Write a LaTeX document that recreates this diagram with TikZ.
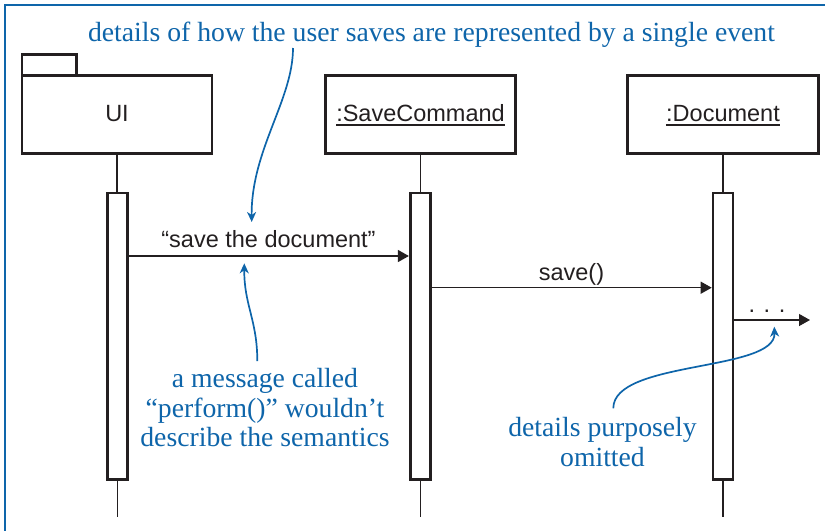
\documentclass[tikz,border=0pt]{standalone}
\usepackage{fontspec}
\setmainfont{Liberation Serif}
\newfontfamily\diagsans{Liberation Sans}
\usetikzlibrary{arrows.meta}
\definecolor{noteblue}{RGB}{14,101,170}
\definecolor{ink}{RGB}{35,31,32}
\begin{document}
\begin{tikzpicture}[x=1pt,y=-1pt,
  objbox/.style={draw=ink, line width=2.6pt, minimum width=190pt, minimum height=78pt, inner sep=0pt},
  tabbox/.style={draw=ink, line width=2.6pt, minimum width=54.7pt, minimum height=20.6pt, inner sep=0pt},
  actbar/.style={draw=ink, line width=2.6pt, fill=white, minimum width=20pt, minimum height=286.7pt, inner sep=0pt},
  lifeline/.style={draw=ink, line width=1.2pt},
  msgarrow/.style={draw=ink, line width=1.3pt, -{Triangle[length=11pt,width=12pt]}},
  msglabel/.style={font=\diagsans\fontsize{23.5}{28}\selectfont, text=ink, inner sep=0pt, anchor=base},
  uline/.style={draw=ink, line width=1.2pt},
  notetext/.style={font=\fontsize{27.7}{29.5}\selectfont, text=noteblue, inner sep=0pt, align=center},
  notearrow/.style={draw=noteblue, line width=1.7pt, -{Stealth[length=10pt,width=9pt,inset=3pt]}},
  frameline/.style={draw=noteblue, line width=1.8pt}
]
\useasboundingbox (0,0) rectangle (825,531);
\draw[frameline] (825,5.2) -- (5.3,5.2) -- (5.3,531);

% object boxes
\node[tabbox] (uitab) at (49.35,65) {};
\node[objbox] (ui) at (117,114.3) {};
\node[objbox] (sc) at (420.5,114.3) {};
\node[objbox, minimum width=191.4pt] (doc) at (723,114.3) {};

\node[msglabel] (uit) at (117,121.7) {UI};
\node[msglabel] (sct) at (420.5,121.7) {:SaveCommand};
\node[msglabel] (doct) at (723,121.7) {:Document};
\draw[uline] ([yshift=-3.3pt]sct.base west) -- ([yshift=-3.3pt]sct.base east);
\draw[uline] ([yshift=-3.3pt]doct.base west) -- ([yshift=-3.3pt]doct.base east);

% activation bars
\node[actbar] (uiact) at (117.3,336.3) {};
\node[actbar] (scact) at (420.2,336.3) {};
\node[actbar] (docact) at (723,336.3) {};

% lifelines
\coordinate (bottom) at (0,516.5);
\draw[lifeline] (ui.south) -- (ui.south |- uiact.north);
\draw[lifeline] (sc.south) -- (sc.south |- scact.north);
\draw[lifeline] (doc.south) -- (doc.south |- docact.north);
\draw[lifeline] (uiact.south) -- (uiact.south |- bottom);
\draw[lifeline] (scact.south) -- (scact.south |- bottom);
\draw[lifeline] (docact.south) -- (docact.south |- bottom);

% messages
\coordinate (m1) at (0,256);
\draw[msgarrow] (uiact.east |- m1) -- (scact.west |- m1);
\node[msglabel] (m1l) at (268.5,247.3) {“save the document”};
\coordinate (m2) at (0,287.7);
\draw[msgarrow] (scact.east |- m2) -- (docact.west |- m2);
\node[msglabel] (m2l) at (571.5,280) {save()};
\coordinate (m3) at (810,320);
\draw[msgarrow] (docact.east |- m3) -- (m3);
\node[msglabel] (dots) at (767,312.5) {.\hskip8.5pt.\hskip8.5pt.};

% notes
\node[notetext, anchor=base] (title) at (431.5,41) {details of how the user saves are represented by a single event};
\node[notetext, anchor=north] (note2) at (265,368.1) {a message called\\“perform()” wouldn’t\\describe the semantics};
\node[notetext, anchor=north] (note3) at (602.5,417.1) {details purposely\\omitted};

\coordinate (a1s) at (293,48);
\coordinate (a1e) at (251.7,222);
\draw[notearrow] (a1s) .. controls (293,100) and (251,150) .. (a1e);
\coordinate (a2s) at (257.3,361);
\coordinate (a2e) at (244.3,263.3);
\draw[notearrow] (a2s) .. controls (257.3,320) and (244,305) .. (a2e);
\coordinate (a3s) at (613.3,408.3);
\coordinate (a3e) at (774.3,326.7);
\draw[notearrow] (a3s) .. controls (613.3,360) and (776,372) .. (a3e);
\end{tikzpicture}
\end{document}
